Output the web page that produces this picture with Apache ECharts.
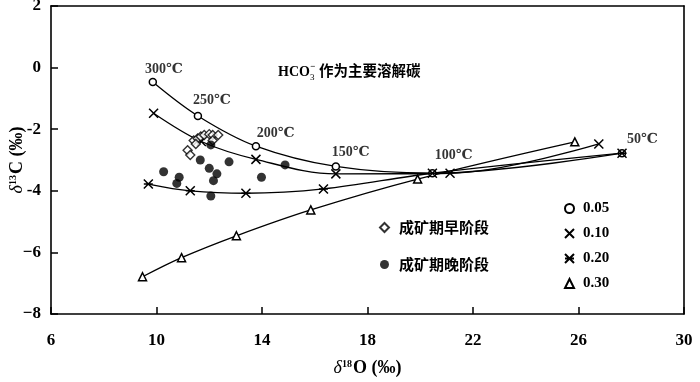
<!DOCTYPE html>
<html><head><meta charset="utf-8">
<script src="https://cdn.jsdelivr.net/npm/echarts@6/dist/echarts.min.js"></script>
<style>html,body{margin:0;padding:0;background:#fff}#c{width:700px;height:382px}</style>
</head><body><div id="c"></div>
<script>
// ---- data ----
const temps = ['300℃', '250℃', '200℃', '150℃', '100℃', '50℃'];
const s005 = [[9.86, -0.47], [11.57, -1.57], [13.77, -2.55], [16.8, -3.21], [20.46, -3.43], [27.65, -2.78]];
const s010 = [[9.89, -1.48], [11.7, -2.4], [13.77, -2.98], [16.8, -3.45], [21.13, -3.43], [26.77, -2.48]];
const s020 = [[9.69, -3.78], [11.28, -4.0], [13.39, -4.08], [16.33, -3.94], [20.46, -3.43], [27.65, -2.78]];
const s030 = [[9.47, -6.79], [10.95, -6.17], [13.03, -5.46], [15.85, -4.62], [19.9, -3.62], [25.86, -2.41]];
const earlyStage = [[11.41, -2.37], [11.56, -2.30], [11.68, -2.24], [11.81, -2.19], [12.0, -2.16], [12.13, -2.19],
  [12.34, -2.19], [11.18, -2.68], [11.28, -2.84], [11.49, -2.48], [12.13, -2.37]];
const lateStage = [[12.06, -2.51], [11.66, -3.0], [12.75, -3.06], [10.27, -3.38], [12.0, -3.27], [12.29, -3.45],
  [12.16, -3.67], [10.86, -3.56], [10.77, -3.76], [12.06, -4.17], [13.98, -3.56], [14.875, -3.16]];
const tempLabelPos = [[10.28, -0.05], [12.1, -1.05], [14.52, -2.12], [17.36, -2.74], [21.27, -2.84], [28.42, -2.32]];
const yTickLabels = {'2': '2', '0': '0', '-2': '-2', '-4': '-4', '-6': '\u22126', '-8': '\u22128'};
const ratioNames = ['0.05', '0.10', '0.20', '0.30'];
const stageNames = ['成矿期早阶段', '成矿期晚阶段'];

const SERIF = '"Liberation Serif","DejaVu Serif","Noto Sans CJK SC",serif';
const CJK = '"Noto Sans CJK SC",sans-serif';
const crossPath = 'path://M0,0L10,10M10,0L0,10';
const starPath = 'path://M0,0L10,10M10,0L0,10M0,5L10,5';

const chart = echarts.init(document.getElementById('c'), null, {renderer: 'canvas'});

function lineSeries(name, data, symbol, size, fill) {
  return {
    name: name, type: 'line', data: data, smooth: 0.35,
    symbol: symbol, symbolSize: size, showAllSymbol: true,
    lineStyle: {color: '#000', width: 1.3},
    itemStyle: {color: fill, borderColor: '#000', borderWidth: 1.5},
    emphasis: {disabled: true}, z: 3
  };
}

const nameRich = {
  d: {fontFamily: SERIF, fontStyle: 'italic', fontSize: 18, color: '#000', verticalAlign: 'bottom'},
  s: {fontFamily: SERIF, fontSize: 10, fontWeight: 'bold', color: '#000', verticalAlign: 'top', padding: [0, 1, 0, 0]},
  n: {fontFamily: SERIF, fontSize: 18, fontWeight: 'bold', color: '#000', verticalAlign: 'bottom'}
};

const option = {
  animation: false,
  backgroundColor: '#fff',
  grid: {left: 51, right: 16, top: 6, bottom: 68, containLabel: false, outerBoundsMode: 'none'},
  xAxis: [{
    type: 'value', min: 6, max: 30, interval: 4,
    axisLine: {onZero: false, lineStyle: {color: '#000', width: 1.6}},
    axisTick: {inside: true, length: 7, lineStyle: {color: '#000', width: 1.5}},
    splitLine: {show: false},
    axisLabel: {color: '#000', fontFamily: SERIF, fontSize: 17, fontWeight: 'bold', margin: 18},
    name: '{d|δ}{s|18}{n|O (‰)}', nameLocation: 'middle', nameGap: 45, nameMoveOverlap: false,
    nameTextStyle: {rich: nameRich}
  }, {
    type: 'value', position: 'top', min: 6, max: 30, interval: 4,
    axisLine: {show: true, onZero: false, lineStyle: {color: '#000', width: 1.6}},
    axisTick: {show: false}, axisLabel: {show: false}, splitLine: {show: false}
  }],
  yAxis: [{
    type: 'value', min: -8, max: 2, interval: 2,
    axisLine: {show: true, onZero: false, lineStyle: {color: '#000', width: 1.6}},
    axisTick: {inside: true, length: 7, lineStyle: {color: '#000', width: 1.5}},
    splitLine: {show: false},
    axisLabel: {color: '#000', fontFamily: SERIF, fontSize: 17, fontWeight: 'bold', margin: 10,
      formatter: v => yTickLabels[String(v)]},
    name: '{d|δ}{s|13}{n|C (‰)}', nameLocation: 'middle', nameGap: 25, nameRotate: 90, nameMoveOverlap: false,
    nameTextStyle: {rich: nameRich}
  }, {
    type: 'value', position: 'right', min: -8, max: 2, interval: 2,
    axisLine: {show: true, onZero: false, lineStyle: {color: '#000', width: 1.6}},
    axisTick: {show: false}, axisLabel: {show: false}, splitLine: {show: false}
  }],
  legend: [{
    orient: 'vertical', left: 559, top: 196, itemGap: 10, itemWidth: 9, itemHeight: 9,
    textStyle: {color: '#000', fontFamily: SERIF, fontSize: 15, fontWeight: 'bold', padding: [0, 0, 0, 4]},
    selectedMode: false,
    data: [
      {name: ratioNames[0], icon: 'circle'},
      {name: ratioNames[1], icon: crossPath},
      {name: ratioNames[2], icon: starPath},
      {name: ratioNames[3], icon: 'triangle'}
    ]
  }, {
    orient: 'vertical', left: 374, top: 215, itemGap: 22, itemWidth: 9, itemHeight: 9,
    textStyle: {color: '#000', fontFamily: CJK, fontSize: 15, fontWeight: 'bold', padding: [0, 0, 0, 5]},
    selectedMode: false,
    data: [
      {name: stageNames[0], icon: 'diamond'},
      {name: stageNames[1], icon: 'circle'}
    ]
  }],
  graphic: [{
    type: 'group', left: 278, top: 62,
    children: [
      {type: 'text', x: 0, y: 3, style: {text: 'HCO', font: 'bold 14px ' + SERIF, fill: '#000'}},
      {type: 'text', x: 32, y: 0, style: {text: '\u2212', font: 'bold 9px ' + SERIF, fill: '#000'}},
      {type: 'text', x: 32, y: 11, style: {text: '3', font: '9px ' + SERIF, fill: '#000'}},
      {type: 'text', x: 41, y: 1, style: {text: '作为主要溶解碳', font: 'bold 14.5px ' + CJK, fill: '#000'}}
    ]
  }],
  series: [
    lineSeries(ratioNames[0], s005, 'circle', 7, '#fff'),
    lineSeries(ratioNames[1], s010, crossPath, 9, '#000'),
    lineSeries(ratioNames[2], s020, starPath, 9, '#000'),
    lineSeries(ratioNames[3], s030, 'triangle', 8, '#fff'),
    {
      name: stageNames[0], type: 'scatter', data: earlyStage, symbol: 'diamond', symbolSize: 9,
      itemStyle: {color: '#fff', borderColor: '#000', borderWidth: 1.4}, z: 4
    },
    {
      name: stageNames[1], type: 'scatter', data: lateStage, symbol: 'circle', symbolSize: 9,
      itemStyle: {color: '#000', borderColor: '#000', borderWidth: 0}, z: 4
    },
    {
      name: 'tempLabels', type: 'scatter', symbolSize: 0, silent: true,
      data: tempLabelPos.map((p, i) => ({value: p, name: temps[i]})),
      label: {show: true, position: 'inside', formatter: '{b}', color: '#000',
        fontFamily: SERIF, fontSize: 14, fontWeight: 'bold'},
      z: 5
    }
  ]
};
chart.setOption(option);
</script></body></html>
